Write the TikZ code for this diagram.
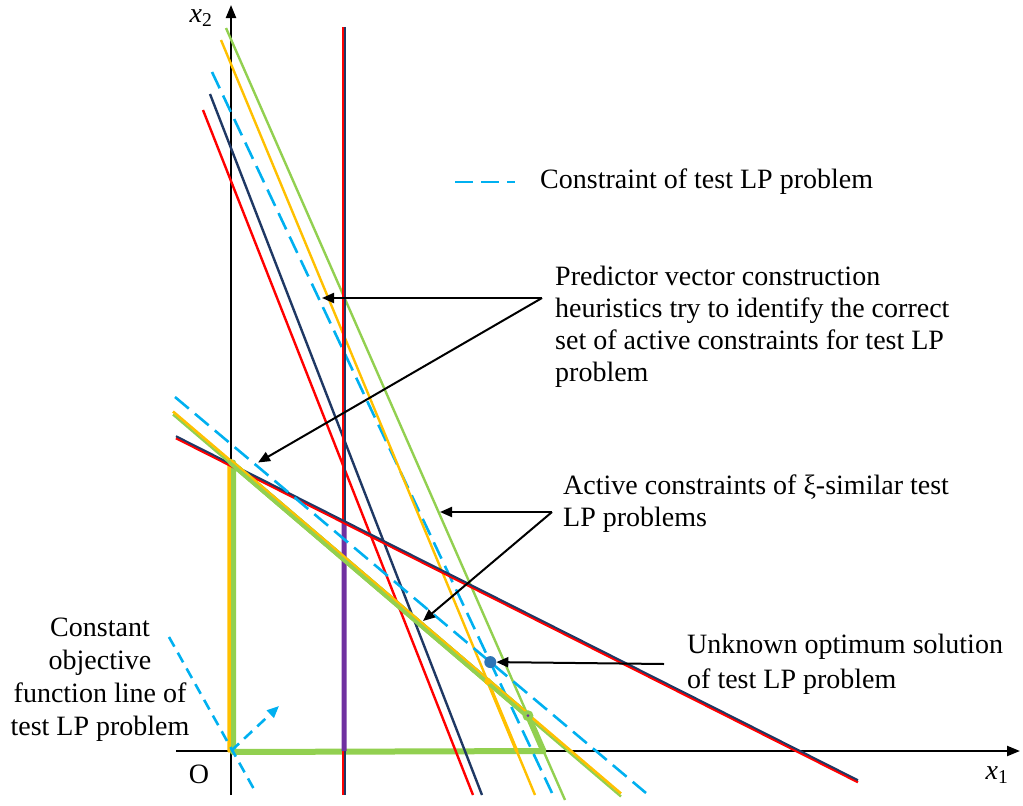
\documentclass[tikz,border=0pt]{standalone}
\usepackage{fontspec}
\setmainfont{Liberation Serif}
\usetikzlibrary{arrows.meta,positioning,calc}

\definecolor{lpred}{HTML}{FF0000}
\definecolor{lpnavy}{HTML}{1F3864}
\definecolor{lpcyan}{HTML}{00B0F0}
\definecolor{lporange}{HTML}{FFC000}
\definecolor{lpgreen}{HTML}{92D050}
\definecolor{lppurple}{HTML}{7030A0}
\definecolor{lpblue}{HTML}{2E75B6}

\begin{document}
\begin{tikzpicture}[x=1pt, y=-1pt,
    axis/.style={line width=2.2pt, -{Triangle[length=13pt,width=10pt]}},
    cons/.style={line width=2.4pt},
    dashcons/.style={line width=2.6pt, lpcyan, dash pattern=on 18pt off 8pt},
    region/.style={line width=6pt, line cap=round, line join=round},
    callout/.style={line width=2pt, -{Triangle[length=12pt,width=10pt]}},
    txt/.style={font=\fontsize{28}{32}\selectfont, inner sep=0pt}
]
\useasboundingbox (0,0) rectangle (1023,806);

% end points of the constraint lines
\coordinate (O) at (231,751);
\coordinate (x2top) at (231,5);   \coordinate (x2bot) at (231,795);
\coordinate (x1left) at (176,751); \coordinate (x1right) at (1020,751);
\coordinate (r1) at (203,110); \coordinate (r2) at (473,795);
\coordinate (n1) at (210,94);  \coordinate (n2) at (482,795);
\coordinate (d1) at (212,72);  \coordinate (d2) at (552,793);
\coordinate (o1) at (221,40);  \coordinate (o2) at (535,795);
\coordinate (g1) at (226,28);  \coordinate (g2) at (565,800);
\coordinate (v1) at (344,27);  \coordinate (v2) at (344,795);
\coordinate (s1) at (176,437); \coordinate (s2) at (858,781);
\coordinate (e1) at (175,397); \coordinate (e2) at (646,793);
\coordinate (h1) at (173,413); \coordinate (h2) at (621,795);

\coordinate (P0) at (intersection of h1--h2 and O--x2top);
\coordinate (P1) at (intersection of h1--h2 and g1--g2);
\coordinate (P2) at (intersection of g1--g2 and O--x1right);
\coordinate (Q1) at (intersection of h1--h2 and o1--o2);
\coordinate (Q2) at (intersection of o1--o2 and O--x1right);
\coordinate (V0) at (intersection of v1--v2 and s1--s2);
\coordinate (opt) at (intersection of d1--d2 and e1--e2);

% axes
\draw[axis] (x2bot) -- (x2top);
\draw[axis] (x1left) -- (x1right);

% feasible regions
\draw[region, lpgreen] ([xshift=2pt]P0) -- ([xshift=2pt,yshift=-1pt]O) -- (P2) -- (P1) -- (P0);
\draw[region, lporange, line width=3.5pt] ([xshift=-2pt]P0) -- ([xshift=-2pt]O);
\draw[region, lporange, line width=3.5pt] (Q2) -- (Q1);

% steep constraints
\draw[cons, lpred] (r1) -- (r2);
\draw[cons, lpnavy] (n1) -- (n2);
\draw[dashcons] (d1) -- (d2);
\draw[cons, lporange] (o1) -- (o2);
\draw[cons, lpgreen] (g1) -- (g2);
\draw[cons, lpred] ([xshift=-1.2pt]v1) -- ([xshift=-1.2pt]v2);
\draw[cons, lpnavy, line width=2pt] ([xshift=0.8pt]v1) -- ([xshift=0.8pt]v2);
\draw[line width=5pt, lppurple] (V0) -- (v2 |- O);

% shallow constraints
\draw[cons, lpred] ([yshift=-1.2pt]s1) -- ([yshift=-1.2pt]s2);
\draw[cons, lpnavy, line width=2pt] ([yshift=0.8pt]s1) -- ([yshift=0.8pt]s2);
\draw[dashcons] (e1) -- (e2);
\draw[cons, lpgreen] ([yshift=-1.5pt]h1) -- ([yshift=-1.5pt]h2);
\draw[cons, lporange, line width=2.6pt] ([yshift=1.5pt]h1) -- ([yshift=1.5pt]h2);
\draw[region, lpgreen] (P0) -- (P1);
\draw[lporange, line width=2pt] ([yshift=2.5pt]P0) -- ([yshift=2.5pt]P1);

% objective function
\draw[dashcons, dash pattern=on 11pt off 7pt] (169,637) -- (255,791);
\draw[dashcons, dash pattern=on 11pt off 7pt, -{Triangle[length=12pt,width=10pt]}] (O) -- (279,706);

% points
\fill[lporange] (Q1) circle (3.5pt);
\fill[lpgreen] (P1) circle (5.5pt);
\fill[lppurple] (P1) circle (1.5pt);
\fill[lpblue] (opt) circle (6pt);

% axis labels
\node[txt] (x2lab) at (201,18) {\textit{x}\textsubscript{2}};
\node[txt] (x1lab) at (997,775) {\textit{x}\textsubscript{1}};
\node[txt] (olab) at (199,774) {O};

% legend
\draw[dashcons] (455,182) -- (515,182);
\node[txt, anchor=west] (legtxt) at (540,182) {Constraint of test LP problem};

% callouts
\node[txt, anchor=north west, align=left] (pred) at (555,266)
  {Predictor vector construction\\heuristics try to identify the correct\\set of active constraints for test LP\\problem};
\node[txt, anchor=north west, align=left] (active) at (563,475)
  {Active constraints of ξ-similar test\\LP problems};
\node[txt, anchor=north west, align=left, font=\fontsize{28}{35}\selectfont] (unknown) at (687,634)
  {Unknown optimum solution\\of test LP problem};
\node[txt, anchor=north, align=center, font=\fontsize{28}{33}\selectfont] (const) at (100,618)
  {Constant\\objective\\function line of\\test LP problem};

\coordinate (predtail) at (542,298);
\coordinate (activetail) at (552,512);
\coordinate (opttail) at (664,664);
\draw[callout] (predtail) -- (predtail -| 322,0);
\draw[callout] (predtail) -- ([shift={(27pt,0pt)}]P0);
\draw[callout] (activetail) -- (activetail -| 440,0);
\draw[callout] (activetail) -- (423,621);
\draw[callout] (opttail) -- ([xshift=6pt]opt);
\end{tikzpicture}
\end{document}
